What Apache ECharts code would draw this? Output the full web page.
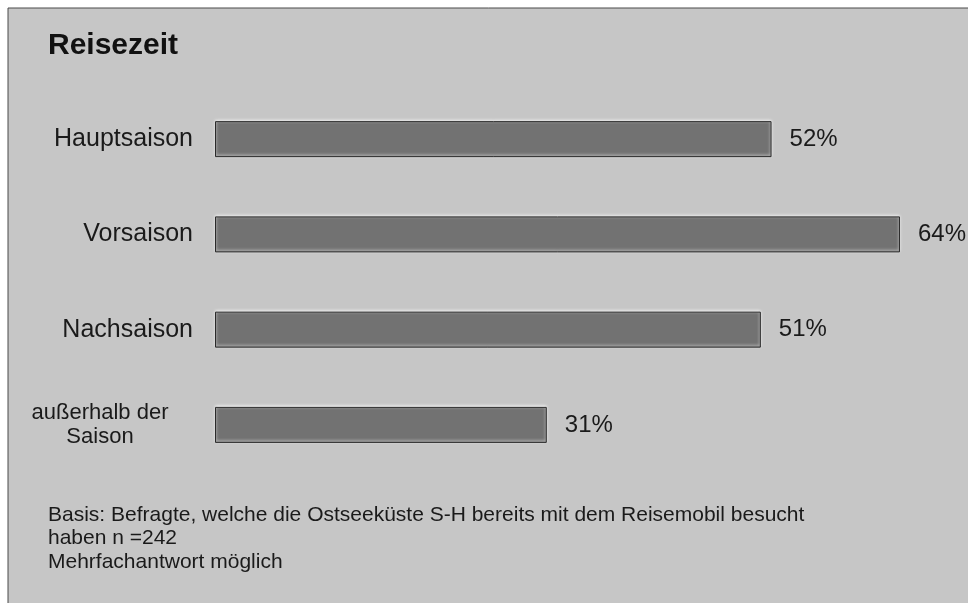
<!DOCTYPE html>
<html>
<head>
<meta charset="utf-8">
<script src="https://cdn.jsdelivr.net/npm/echarts@6/dist/echarts.min.js"></script>
<style>
  html, body { margin: 0; padding: 0; background: #ffffff; }
  #chart { width: 968px; height: 603px; }
</style>
</head>
<body>
<div id="chart"></div>
<script>
const titleText = 'Reisezeit';
const categories = ['Hauptsaison', 'Vorsaison', 'Nachsaison', 'außerhalb der\nSaison'];
const values = [52, 64, 51, 31];
const footnoteLines = [
  'Basis: Befragte, welche die Ostseeküste S-H bereits mit dem Reisemobil besucht',
  'haben n =242',
  'Mehrfachantwort möglich'
];

const chart = echarts.init(document.getElementById('chart'));
chart.setOption({
  backgroundColor: '#ffffff',
  animation: false,
  graphic: [{
    type: 'rect',
    z: -10,
    shape: { x: 8, y: 8, width: 970, height: 610 },
    style: { fill: '#c6c6c6', stroke: '#4a4a4a', lineWidth: 1 }
  }],
  title: [{
    text: titleText,
    left: 43,
    top: 26,
    textStyle: {
      fontFamily: 'Liberation Sans, Arial, sans-serif',
      fontSize: 30,
      fontWeight: 'bold',
      color: '#111111',
      textShadowColor: 'rgba(255,255,255,0.8)',
      textShadowOffsetX: 1,
      textShadowOffsetY: 1
    }
  }, {
    text: footnoteLines.join('\n'),
    left: 43,
    top: 498,
    textStyle: {
      fontFamily: 'Liberation Sans, Arial, sans-serif',
      fontSize: 21,
      fontWeight: 'normal',
      lineHeight: 23.5,
      color: '#1a1a1a'
    }
  }],
  grid: { left: 215, top: 91.5, width: 749.2, height: 381, containLabel: false },
  xAxis: {
    type: 'value',
    min: 0,
    max: 70,
    show: false
  },
  yAxis: {
    type: 'category',
    data: categories,
    inverse: true,
    axisLine: { show: false },
    axisTick: { show: false },
    splitLine: { show: false },
    axisLabel: {
      margin: 22,
      fontFamily: 'Liberation Sans, Arial, sans-serif',
      fontSize: 25,
      color: '#1a1a1a',
      formatter: function (v) {
        return v.indexOf('\n') >= 0 ? '{c|' + v + '}' : v;
      },
      rich: {
        c: {
          width: 186,
          align: 'center',
          fontSize: 22,
          lineHeight: 24,
          fontFamily: 'Liberation Sans, Arial, sans-serif',
          color: '#1a1a1a'
        }
      }
    }
  },
  series: [{
    type: 'bar',
    data: values,
    barWidth: 36,
    itemStyle: {
      color: '#727272',
      borderColor: '#2a2a2a',
      borderWidth: 1,
      shadowColor: 'rgba(255,255,255,0.95)',
      shadowBlur: 3,
      shadowOffsetX: 0,
      shadowOffsetY: -1
    },
    label: {
      show: true,
      position: 'right',
      distance: 18,
      formatter: '{c}%',
      fontFamily: 'Liberation Sans, Arial, sans-serif',
      fontSize: 24,
      color: '#1a1a1a'
    }
  }]
});
</script>
</body>
</html>
